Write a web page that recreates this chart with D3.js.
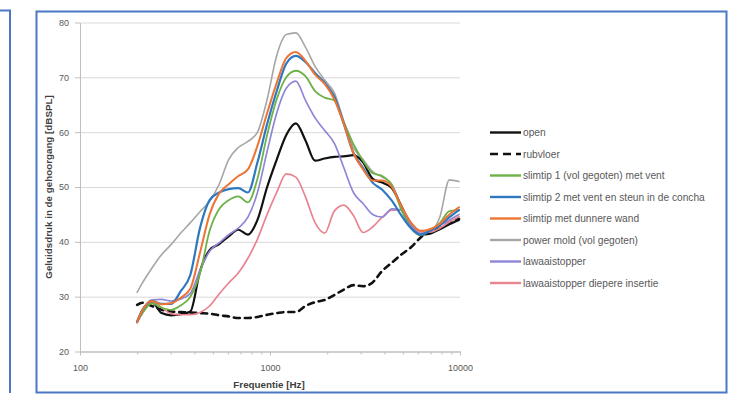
<!DOCTYPE html>
<html>
<head>
<meta charset="utf-8">
<style>
  body { margin: 0; background: #fff; }
  svg { font-family: "Liberation Sans", Arial, sans-serif; }
  .grid line { stroke: #d9d9d9; stroke-width: 1px; }
  .grid .domain { display: none; }
  .axis text { fill: #595959; font-size: 9px; }
  .axis line, .axis path { stroke: #bfbfbf; }
  .series { fill: none; stroke-linejoin: round; stroke-linecap: round; }
  .legend text { fill: #595959; font-size: 10.2px; }
  .title { fill: #404040; font-size: 9.8px; font-weight: bold; }
</style>
</head>
<body>
<script src="https://d3js.org/d3.v7.min.js"></script>
<script>
// frequency grid (Hz), shared by every series
var freqs = [200, 213, 239, 269, 302, 339, 381, 428, 481, 540, 606, 681, 765, 859, 966,
             1085, 1218, 1368, 1537, 1727, 1940, 2179, 2447, 2749, 3088, 3469, 3897,
             4377, 4917, 5523, 6204, 6969, 7828, 8793, 9877];

// sound pressure in the ear canal, dBSPL
var open = [25.4, 27.5, 29.0, 27.0, 26.6, 26.8, 27.3, 34.6, 38.5, 39.6, 41.0, 42.2, 41.3, 44.0, 50.0,
            55.0, 59.5, 61.6, 58.5, 54.8, 55.2, 55.5, 55.6, 55.8, 54.5, 51.5, 50.8,
            49.8, 46.5, 43.0, 41.3, 41.5, 42.3, 43.2, 44.0];
var rubvloer = [28.5, 28.9, 28.3, 27.6, 27.3, 27.2, 27.1, 27.0, 26.9, 26.6, 26.4, 26.1, 26.1, 26.3, 26.7,
                27.0, 27.2, 27.2, 28.3, 29.0, 29.4, 30.3, 31.3, 32.1, 31.9, 32.6, 34.7,
                36.2, 37.7, 39.0, 40.8, 42.2, 42.5, 43.5, 44.2];
var slimtip1 = [25.5, 27.0, 28.8, 28.0, 27.6, 28.4, 30.0, 34.2, 42.0, 46.0, 47.6, 48.3, 47.2, 51.5, 59.5,
                66.0, 70.0, 71.2, 70.2, 67.5, 66.3, 65.8, 61.8, 57.8, 54.8, 52.5, 52.0,
                50.3, 45.8, 42.5, 41.2, 42.1, 43.4, 45.6, 45.8];
var slimtip2 = [25.5, 27.5, 29.2, 28.7, 28.7, 31.0, 34.0, 42.5, 47.6, 49.0, 49.6, 49.8, 49.0, 54.5, 61.5,
                67.5, 72.5, 73.9, 72.8, 70.8, 69.0, 66.5, 61.5, 56.2, 53.5, 50.8, 49.5,
                47.5, 44.8, 42.5, 41.3, 42.0, 43.0, 44.5, 45.8];
var dunnereWand = [25.5, 27.5, 29.2, 28.6, 28.8, 29.8, 31.5, 38.0, 45.0, 48.8, 50.5, 52.0, 53.2, 57.5, 63.5,
                   69.0, 73.5, 74.6, 73.0, 70.5, 68.8, 66.0, 61.5, 56.2, 53.2, 51.2, 51.2,
                   50.0, 46.5, 43.5, 42.0, 42.3, 43.3, 45.0, 46.3];
var powerMold = [30.8, 32.5, 35.2, 37.7, 39.5, 41.6, 43.5, 45.5, 47.4, 50.5, 55.0, 57.2, 58.3, 60.0, 66.0,
                 74.0, 77.8, 78.1, 75.5, 72.0, 69.5, 67.2, 62.0, 57.2, 55.0, 52.8, 51.8,
                 50.5, 46.5, 43.5, 41.8, 42.0, 44.5, 51.3, 51.0];
var lawaaistopper = [25.5, 27.5, 29.4, 29.5, 29.2, 29.6, 30.6, 34.8, 38.3, 39.8, 41.3, 42.5, 44.5, 49.0, 56.5,
                     63.5, 68.0, 69.3, 65.8, 62.6, 60.3, 58.0, 53.5, 49.0, 47.0, 45.0, 44.5,
                     46.0, 45.8, 43.0, 41.5, 42.0, 43.0, 44.0, 45.0];
var diepereInsertie = [25.2, 27.0, 29.0, 28.0, 26.9, 26.7, 26.7, 27.1, 28.3, 30.5, 32.5, 34.3, 37.0, 40.5, 45.0,
                       49.0, 52.4, 51.8, 48.2, 43.5, 41.6, 45.6, 46.7, 44.8, 41.7, 42.7, 44.5,
                       45.8, 45.8, 43.3, 41.8, 41.8, 42.5, 43.6, 44.6];

var seriesNames = ["open", "rubvloer", "slimtip 1 (vol gegoten) met vent",
                   "slimtip 2 met vent en steun in de concha", "slimtip met dunnere wand",
                   "power mold (vol gegoten)", "lawaaistopper", "lawaaistopper diepere insertie"];
var seriesValues = [open, rubvloer, slimtip1, slimtip2, dunnereWand, powerMold, lawaaistopper, diepereInsertie];
var seriesColors = ["#111111", "#111111", "#6cb247", "#2f78bf", "#ec7434", "#a6a6a6", "#8f86d8", "#e9848f"];
var seriesWidths = [2.2, 2.6, 1.8, 2.2, 2.0, 1.6, 1.7, 1.7];
var seriesDash = [null, "6,5", null, null, null, null, null, null];

var yTicks = [20, 30, 40, 50, 60, 70, 80];
var xTicks = [100, 1000, 10000];
var xMinor = [200, 300, 400, 500, 600, 700, 800, 900, 2000, 3000, 4000, 5000, 6000, 7000, 8000, 9000];

var svg = d3.select("body").append("svg")
    .attr("width", 744)
    .attr("height", 397);

// frames (neighbouring figure on the left + this figure)
svg.append("path")
    .attr("d", "M0,10.5H10V393")
    .attr("fill", "none").attr("stroke", "#4a78c6").attr("stroke-width", 2);
svg.append("rect")
    .attr("x", 36.5).attr("y", 11.5).attr("width", 690).attr("height", 381)
    .attr("fill", "none").attr("stroke", "#4a78c6").attr("stroke-width", 2);

var x = d3.scaleLog().domain([100, 10000]).range([80, 460]);
var y = d3.scaleLinear().domain([20, 80]).range([351.5, 22.5]);

svg.append("g")
    .attr("class", "grid")
    .attr("transform", "translate(80,0)")
    .call(d3.axisLeft(y).tickValues(yTicks.slice(1)).tickSize(-380).tickFormat(""));

svg.append("g")
    .attr("class", "axis")
    .attr("transform", "translate(80,0)")
    .call(d3.axisLeft(y).tickValues(yTicks).tickSize(5).tickSizeOuter(0).tickPadding(6));

svg.append("g")
    .attr("class", "axis")
    .attr("transform", "translate(0,351.5)")
    .call(d3.axisBottom(x).tickValues(xMinor).tickSize(3).tickFormat("").tickSizeOuter(0));

svg.append("g")
    .attr("class", "axis")
    .attr("transform", "translate(0,351.5)")
    .call(d3.axisBottom(x).tickValues(xTicks).tickSize(4).tickSizeOuter(0).tickPadding(9)
        .tickFormat(d3.format("d")));

svg.append("text")
    .attr("class", "title")
    .attr("transform", "translate(52,187) rotate(-90)")
    .attr("text-anchor", "middle")
    .text("Geluidsdruk in de gehoorgang [dBSPL]");

svg.append("text")
    .attr("class", "title")
    .attr("x", 269).attr("y", 388)
    .attr("text-anchor", "middle")
    .text("Frequentie [Hz]");

var line = d3.line()
    .x(function(d, i) { return x(freqs[i]); })
    .y(function(d) { return y(d); })
    .curve(d3.curveMonotoneX);

// draw back to front so black sits under coloured lines like the original
var order = [5, 1, 0, 7, 6, 2, 3, 4];
order.forEach(function(k) {
    svg.append("path")
        .attr("class", "series")
        .attr("d", line(seriesValues[k]))
        .attr("stroke", seriesColors[k])
        .attr("stroke-width", seriesWidths[k])
        .attr("stroke-dasharray", seriesDash[k])
        .attr("stroke-linecap", seriesDash[k] ? "butt" : "round");
});

var legend = svg.append("g").attr("class", "legend");
seriesNames.forEach(function(name, i) {
    var ly = 132.5 + i * 21.5;
    legend.append("line")
        .attr("x1", 490).attr("x2", 521)
        .attr("y1", ly).attr("y2", ly)
        .attr("stroke", seriesColors[i])
        .attr("stroke-width", seriesDash[i] ? 2.6 : 2.4)
        .attr("stroke-dasharray", seriesDash[i] ? "8,5" : null);
    legend.append("text")
        .attr("x", 523).attr("y", ly + 3.5)
        .text(name);
});
</script>
</body>
</html>
